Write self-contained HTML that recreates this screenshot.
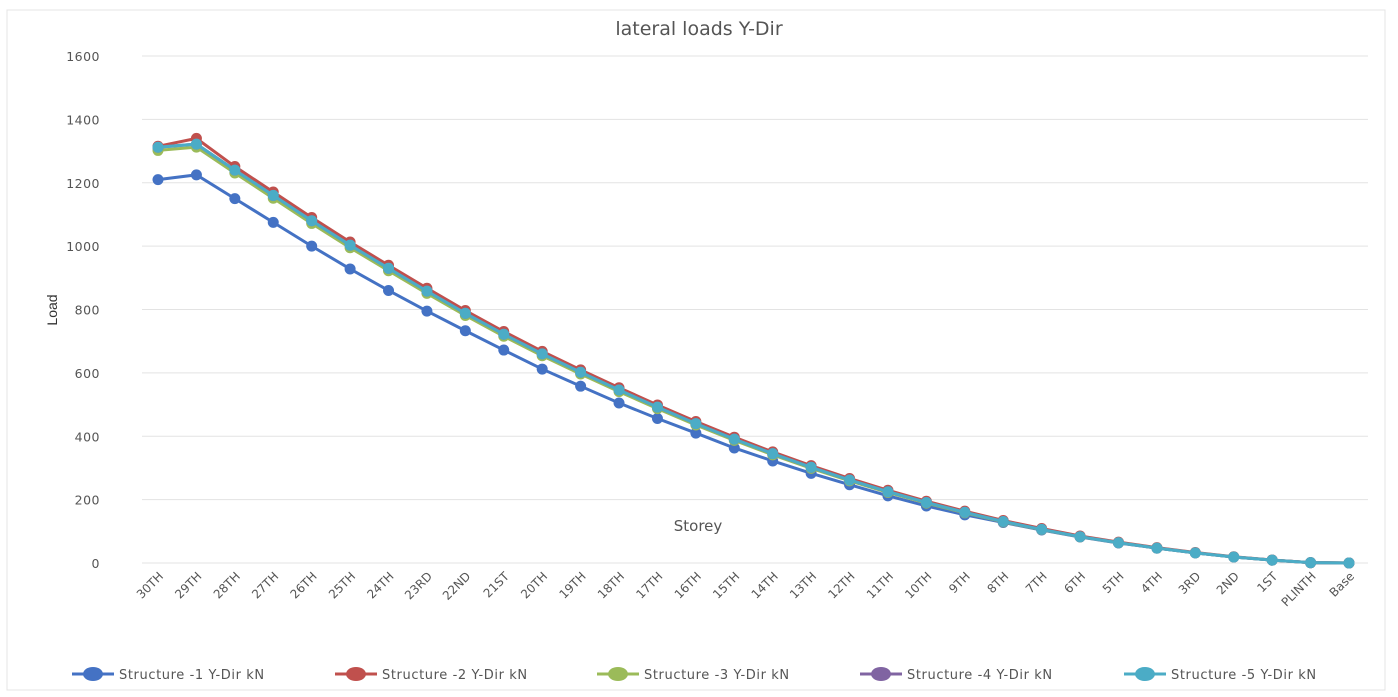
<!DOCTYPE html>
<html><head><meta charset="utf-8"><style>
html,body{margin:0;padding:0;background:#fff;}
svg{display:block;font-family:"DejaVu Sans","Liberation Sans",sans-serif;}
</style></head><body>
<svg id="s" width="1398" height="697" xmlns="http://www.w3.org/2000/svg">
<rect x="7" y="10" width="1378" height="680" fill="#fff" stroke="#e4e4e4"/>
<text x="699" y="35" text-anchor="middle" font-size="19" fill="#555">lateral loads Y-Dir</text>
<text transform="translate(57,310) rotate(-90)" text-anchor="middle" font-size="14" fill="#333" font-family="Liberation Sans Narrow, Liberation Sans, sans-serif">Load</text>
<text x="698" y="531" text-anchor="middle" font-size="15" fill="#555">Storey</text>
<g id="g"></g>
</svg>
<script>
const g=document.getElementById('g');const NS='http://www.w3.org/2000/svg';
function el(t,a,txt){const e=document.createElementNS(NS,t);for(const k in a)e.setAttribute(k,a[k]);if(txt!==undefined)e.textContent=txt;g.appendChild(e);return e;}
const y0=563,yt=56,X0=158,dx=(1349-158)/31;
const Y=v=>y0-(v/1600)*(y0-yt);
for(let v=0;v<=1600;v+=200){el('line',{x1:142,x2:1368,y1:Y(v),y2:Y(v),stroke:'#e3e3e3','stroke-width':1});
el('text',{x:100,y:Y(v)+5,'text-anchor':'end','font-size':12.5,fill:'#555','letter-spacing':0.5},v);}
const cats=['30TH','29TH','28TH','27TH','26TH','25TH','24TH','23RD','22ND','21ST','20TH','19TH','18TH','17TH','16TH','15TH','14TH','13TH','12TH','11TH','10TH','9TH','8TH','7TH','6TH','5TH','4TH','3RD','2ND','1ST','PLINTH','Base'];
cats.forEach((c,i)=>{const x=X0+i*dx+6;el('text',{x:x,y:577,'text-anchor':'end','font-size':12,fill:'#555',transform:`rotate(-45 ${x} 577)`},c);});
const s1=[1210,1225,1150,1075,1000,928,860,795,733,672,612,558,505,456,410,363,322,283,247,212,180,152,128,104,82,63,47,32,19,9,1,0];
const s5=[1312,1322,1240,1160,1080,1003,930,858,788,722,660,602,546,492,440,391,345,302,262,225,191,160,131,106,83,64,47,32,19,9,1,0];
const s2=s5.map((v,i)=>i==0?1315:i==1?1340:v+Math.max(0,12-i*0.4));
const s3=s5.map((v,i)=>i==0?1302:v-Math.max(0,10-i*0.4));
const s4=s5.map(v=>v);
const ser=[[s1,'#4472c4'],[s2,'#c0504d'],[s3,'#9bbb59'],[s4,'#8064a2'],[s5,'#4bacc6']];
ser.forEach(([d,c])=>{el('polyline',{points:d.map((v,i)=>(X0+i*dx)+','+Y(v)).join(' '),fill:'none',stroke:c,'stroke-width':3});
d.forEach((v,i)=>el('circle',{cx:X0+i*dx,cy:Y(v),r:5.5,fill:c}));});
const names=['Structure -1 Y-Dir kN','Structure -2 Y-Dir kN','Structure -3 Y-Dir kN','Structure -4 Y-Dir kN','Structure -5 Y-Dir kN'];
const lx=[72,335,597,860,1124];
names.forEach((n,i)=>{const x=lx[i];el('line',{x1:x,x2:x+42,y1:674,y2:674,stroke:ser[i][1],'stroke-width':3});
el('ellipse',{cx:x+21,cy:674,rx:10,ry:7,fill:ser[i][1]});
el('text',{x:x+47,y:679,'font-size':13,fill:'#555','letter-spacing':0.6},n);});
</script>
</body></html>
